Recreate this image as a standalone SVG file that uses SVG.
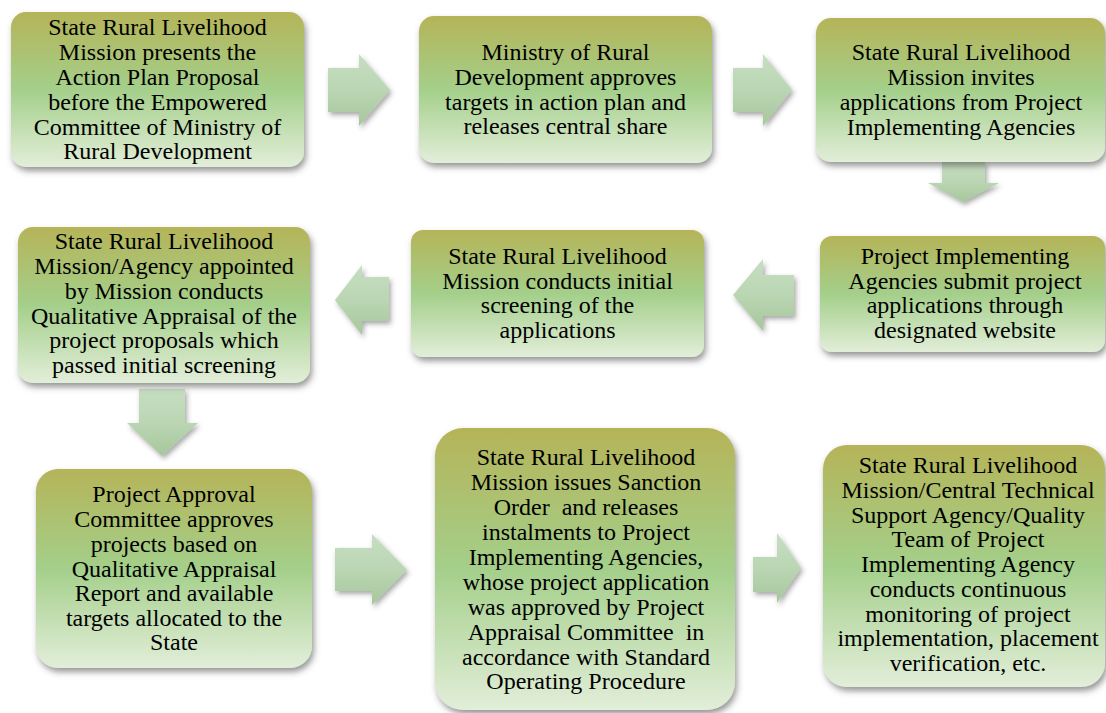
<svg xmlns="http://www.w3.org/2000/svg" width="1106" height="713" viewBox="0 0 1106 713">
<style>
.box{fill:url(#boxGrad);filter:url(#shadow)}
.arr{fill:url(#arrGrad);filter:url(#ashadow)}
text{font-family:"Liberation Serif","Times New Roman",serif;font-size:24px;fill:#000;text-anchor:middle}
</style>
<defs>
<linearGradient id="boxGrad" x1="0" y1="0" x2="0" y2="1">
<stop offset="0" stop-color="#b5b458"/>
<stop offset="0.5" stop-color="#a4cf8a"/>
<stop offset="1" stop-color="#e2eed9"/>
</linearGradient>
<linearGradient id="arrGrad" x1="0" y1="0" x2="0" y2="1">
<stop offset="0" stop-color="#c6dec2"/>
<stop offset="0.5" stop-color="#bad6b3"/>
<stop offset="1" stop-color="#a6c79c"/>
</linearGradient>
<filter id="shadow" x="-10%" y="-10%" width="125%" height="130%">
<feDropShadow dx="2" dy="4" stdDeviation="3" flood-color="#404040" flood-opacity="0.55"/>
</filter>
<filter id="ashadow" x="-20%" y="-20%" width="150%" height="150%">
<feDropShadow dx="2" dy="3" stdDeviation="2.5" flood-color="#404040" flood-opacity="0.45"/>
</filter>
</defs>
<rect width="1106" height="713" fill="#ffffff"/>

<g id="connectors">
<polygon class="arr" points="328,68 359,68 359,54 390,90 359,126 359,112 328,112"/>
<polygon class="arr" points="733,68 763,68 763,54 792,90 763,126 763,112 733,112"/>
<polygon class="arr" points="942,162 985,162 985,183 999,183 963,202 928,183 942,183"/>
<polygon class="arr" points="733,295 763,259 763,275 794,275 794,316 763,316 763,331"/>
<polygon class="arr" points="335,300 362,265 362,277 389,277 389,321 362,321 362,335"/>
<polygon class="arr" points="139,389 185,389 185,423 198,423 162,456 127,423 139,423"/>
<polygon class="arr" points="335,548 372,548 372,534 407,570 372,605 372,591 335,591"/>
<polygon class="arr" points="753,557 777,557 777,533 801,568 777,603 777,592 753,592"/>
</g>

<g id="node1">
<rect class="box" x="11" y="12" width="293" height="155" rx="15"/>
<text><tspan x="157.5" y="35">State Rural Livelihood</tspan><tspan x="157.5" y="60">Mission presents the</tspan><tspan x="157.5" y="85">Action Plan Proposal</tspan><tspan x="157.5" y="110">before the Empowered</tspan><tspan x="157.5" y="135">Committee of Ministry of</tspan><tspan x="157.5" y="159">Rural Development</tspan></text>
</g>

<g id="node2">
<rect class="box" x="419" y="16" width="293" height="147" rx="15"/>
<text><tspan x="565.5" y="60">Ministry of Rural</tspan><tspan x="565.5" y="85">Development approves</tspan><tspan x="565.5" y="110">targets in action plan and</tspan><tspan x="565.5" y="134">releases central share</tspan></text>
</g>

<g id="node3">
<rect class="box" x="816" y="18" width="289" height="144" rx="15"/>
<text><tspan x="961" y="60">State Rural Livelihood</tspan><tspan x="961" y="85">Mission invites</tspan><tspan x="961" y="110">applications from Project</tspan><tspan x="961" y="135">Implementing Agencies</tspan></text>
</g>

<g id="node4">
<rect class="box" x="820" y="236" width="285" height="116" rx="12"/>
<text><tspan x="965" y="264">Project Implementing</tspan><tspan x="965" y="289">Agencies submit project</tspan><tspan x="965" y="313">applications through</tspan><tspan x="965" y="338">designated website</tspan></text>
</g>

<g id="node5">
<rect class="box" x="411" y="230" width="293" height="127" rx="12"/>
<text><tspan x="557.5" y="264">State Rural Livelihood</tspan><tspan x="557.5" y="289">Mission conducts initial</tspan><tspan x="557.5" y="313">screening of the</tspan><tspan x="557.5" y="338">applications</tspan></text>
</g>

<g id="node6">
<rect class="box" x="18" y="227" width="292" height="156" rx="15"/>
<text><tspan x="164" y="249">State Rural Livelihood</tspan><tspan x="164" y="274">Mission/Agency appointed</tspan><tspan x="164" y="299">by Mission conducts</tspan><tspan x="164" y="324">Qualitative Appraisal of the</tspan><tspan x="164" y="348">project proposals which</tspan><tspan x="164" y="373">passed initial screening</tspan></text>
</g>

<g id="node7">
<rect class="box" x="36" y="469" width="276" height="199" rx="22"/>
<text><tspan x="174" y="502">Project Approval</tspan><tspan x="174" y="527">Committee approves</tspan><tspan x="174" y="552">projects based on</tspan><tspan x="174" y="577">Qualitative Appraisal</tspan><tspan x="174" y="601">Report and available</tspan><tspan x="174" y="626">targets allocated to the</tspan><tspan x="174" y="650">State</tspan></text>
</g>

<g id="node8">
<rect class="box" x="435" y="428" width="300" height="282" rx="28"/>
<text><tspan x="586" y="465">State Rural Livelihood</tspan><tspan x="586" y="490">Mission issues Sanction</tspan><tspan x="586" y="515" xml:space="preserve">Order  and releases</tspan><tspan x="586" y="540">instalments to Project</tspan><tspan x="586" y="565">Implementing Agencies,</tspan><tspan x="586" y="590">whose project application</tspan><tspan x="586" y="615">was approved by Project</tspan><tspan x="586" y="640" xml:space="preserve">Appraisal Committee  in</tspan><tspan x="586" y="665">accordance with Standard</tspan><tspan x="586" y="689">Operating Procedure</tspan></text>
</g>

<g id="node9">
<rect class="box" x="823" y="445" width="282" height="242" rx="24"/>
<text><tspan x="968" y="473">State Rural Livelihood</tspan><tspan x="968" y="498">Mission/Central Technical</tspan><tspan x="968" y="523">Support Agency/Quality</tspan><tspan x="968" y="547">Team of Project</tspan><tspan x="968" y="572">Implementing Agency</tspan><tspan x="968" y="597">conducts continuous</tspan><tspan x="968" y="622">monitoring of project</tspan><tspan x="968" y="646">implementation, placement</tspan><tspan x="968" y="671">verification, etc.</tspan></text>
</g>
</svg>
